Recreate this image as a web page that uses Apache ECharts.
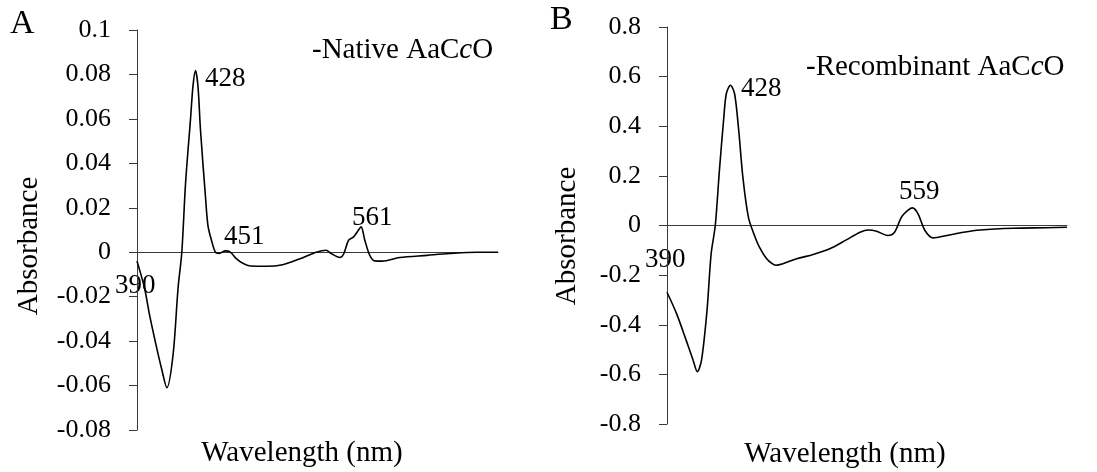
<!DOCTYPE html>
<html lang="en">

<head>
    <meta charset="UTF-8">
    <meta name="viewport" content="width=device-width, initial-scale=1.0">
    <title>Absorbance spectra AaCcO</title>
    <script type="text/javascript" src="https://cdn.jsdelivr.net/npm/echarts@6.0.0/dist/echarts.min.js"></script>
    <style>
        body { margin: 0; background: #fff; }
    </style>
</head>

<body>
    <div id="container" style="width: 1097px; height: 472px"></div>
    <script type="text/javascript">
        // panel A - native
        var wlNative = [380, 386, 390, 395, 400, 404, 409, 413, 416, 419, 423, 425, 427, 429, 431, 435, 437, 440, 443, 446,
            451, 455, 460, 465, 471, 484, 497, 511, 524, 532, 536, 543, 546, 550, 554, 557, 560, 563, 567, 571,
            577, 591, 613, 631, 653, 670];
        var absNative = [-0.004, -0.016, -0.028, -0.041, -0.053, -0.061, -0.046, -0.016, 0.0, 0.031, 0.060, 0.075, 0.0817, 0.0745, 0.055, 0.025, 0.012, 0.005, 0.0, -0.0005,
            0.0006, 0.0, -0.003, -0.005, -0.0062, -0.0063, -0.0056, -0.0029, 0.0, 0.0009, -0.0006, -0.0024, -0.0008, 0.0054, 0.0069, 0.0092, 0.0114, 0.0054, -0.0014, -0.0039,
            -0.004, -0.0024, -0.0014, -0.0006, 0.0, 0.0];
        var ticksNative = [-0.08, 0.1, 0.02];

        // panel B - recombinant
        var wlRecomb = [380, 387, 394, 399, 402, 405, 409, 412, 415, 418, 421, 423, 426, 429, 432, 435, 439, 443, 447, 452,
            456, 459, 464, 474, 486, 498, 510, 520, 526, 532, 540, 545, 550, 555, 558, 562, 567, 573, 583, 595, 607,
            631, 655, 670];
        var absRecomb = [-0.269, -0.356, -0.464, -0.544, -0.589, -0.544, -0.343, -0.114, 0.0, 0.222, 0.423, 0.531, 0.565, 0.531, 0.383, 0.195, 0.034, -0.034, -0.087, -0.132,
            -0.153, -0.160, -0.154, -0.134, -0.117, -0.094, -0.058, -0.027, -0.018, -0.023, -0.040, -0.027, 0.034, 0.063, 0.071, 0.047, -0.020, -0.050, -0.040, -0.027, -0.018,
            -0.011, -0.009, -0.007];
        var ticksRecomb = [-0.8, 0.8, 0.2];

        var wlRange = [380, 670];

        var serif = 'Liberation Serif';

        function pairs(xs, ys) {
            var out = [];
            for (var i = 0; i < xs.length; i++) {
                out.push([xs[i], ys[i]]);
            }
            return out;
        }

        function yAxisFor(idx, t, digits) {
            return {
                type: 'value', gridIndex: idx,
                min: t[0], max: t[1], interval: t[2],
                axisLine: { show: true, lineStyle: { color: '#3a3a3a', width: 1 } },
                axisTick: { show: true, inside: false, length: 8, lineStyle: { color: '#3a3a3a' } },
                splitLine: { show: false },
                axisLabel: {
                    margin: 26, color: '#000', fontFamily: serif, fontSize: 26,
                    formatter: function (v) {
                        var s = (+v.toFixed(digits)).toString();
                        return s === '-0' ? '0' : s;
                    }
                }
            };
        }

        function xAxisFor(idx) {
            return {
                type: 'value', gridIndex: idx,
                min: wlRange[0], max: wlRange[1],
                axisLine: { show: true, onZero: true, lineStyle: { color: '#3a3a3a', width: 1 } },
                axisTick: { show: false },
                axisLabel: { show: false },
                splitLine: { show: false }
            };
        }

        function txt(x, y, s, size, opts) {
            var el = {
                type: 'text', x: x, y: y,
                style: {
                    text: s, fill: '#000', font: size + 'px "' + serif + '"',
                    textAlign: 'left', textVerticalAlign: 'middle'
                }
            };
            if (opts) {
                for (var k in opts) el.style[k] = opts[k];
            }
            return el;
        }

        function legendTxt(x, y, name) {
            return {
                type: 'text', x: x, y: y,
                style: {
                    text: '{n|-' + name + ' AaC}{i|c}{n|O}', textVerticalAlign: 'middle',
                    rich: {
                        n: { fontFamily: serif, fontSize: 29, color: '#000' },
                        i: { fontFamily: serif, fontSize: 29, fontStyle: 'italic', color: '#000' }
                    }
                }
            };
        }

        var dom = document.getElementById("container");
        var myChart = echarts.init(dom, null, { renderer: 'canvas' });

        var titleA = txt(29, 246, 'Absorbance', 29, { textAlign: 'center' });
        titleA.rotation = Math.PI / 2;
        var titleB = txt(567, 236, 'Absorbance', 29, { textAlign: 'center' });
        titleB.rotation = Math.PI / 2;

        var option = {
            animation: false,
            backgroundColor: '#fff',
            grid: [
                { left: 137, top: 30, width: 361, height: 400 },
                { left: 667, top: 27, width: 400, height: 397 }
            ],
            xAxis: [xAxisFor(0), xAxisFor(1)],
            yAxis: [yAxisFor(0, ticksNative, 2), yAxisFor(1, ticksRecomb, 1)],
            series: [
                {
                    type: 'line', xAxisIndex: 0, yAxisIndex: 0,
                    data: pairs(wlNative, absNative),
                    showSymbol: false, smooth: 0.3,
                    lineStyle: { color: '#000', width: 1.6 }
                },
                {
                    type: 'line', xAxisIndex: 1, yAxisIndex: 1,
                    data: pairs(wlRecomb, absRecomb),
                    showSymbol: false, smooth: 0.3,
                    lineStyle: { color: '#000', width: 1.6 }
                }
            ],
            graphic: [
                txt(10, 24, 'A', 34),
                txt(550, 20, 'B', 34),
                titleA,
                titleB,
                txt(302, 453, 'Wavelength (nm)', 29, { textAlign: 'center' }),
                txt(845, 454, 'Wavelength (nm)', 29, { textAlign: 'center' }),
                // peak labels
                txt(205, 79, '428', 27),
                txt(224, 237, '451', 27),
                txt(352, 218, '561', 27),
                txt(115, 286, '390', 27),
                txt(741, 89, '428', 27),
                txt(899, 192, '559', 27),
                txt(645, 260, '390', 27),
                legendTxt(312, 50, 'Native'),
                legendTxt(806, 67, 'Recombinant')
            ]
        };

        if (option && typeof option === 'object') {
            myChart.setOption(option);
        }
    </script>
</body>

</html>
